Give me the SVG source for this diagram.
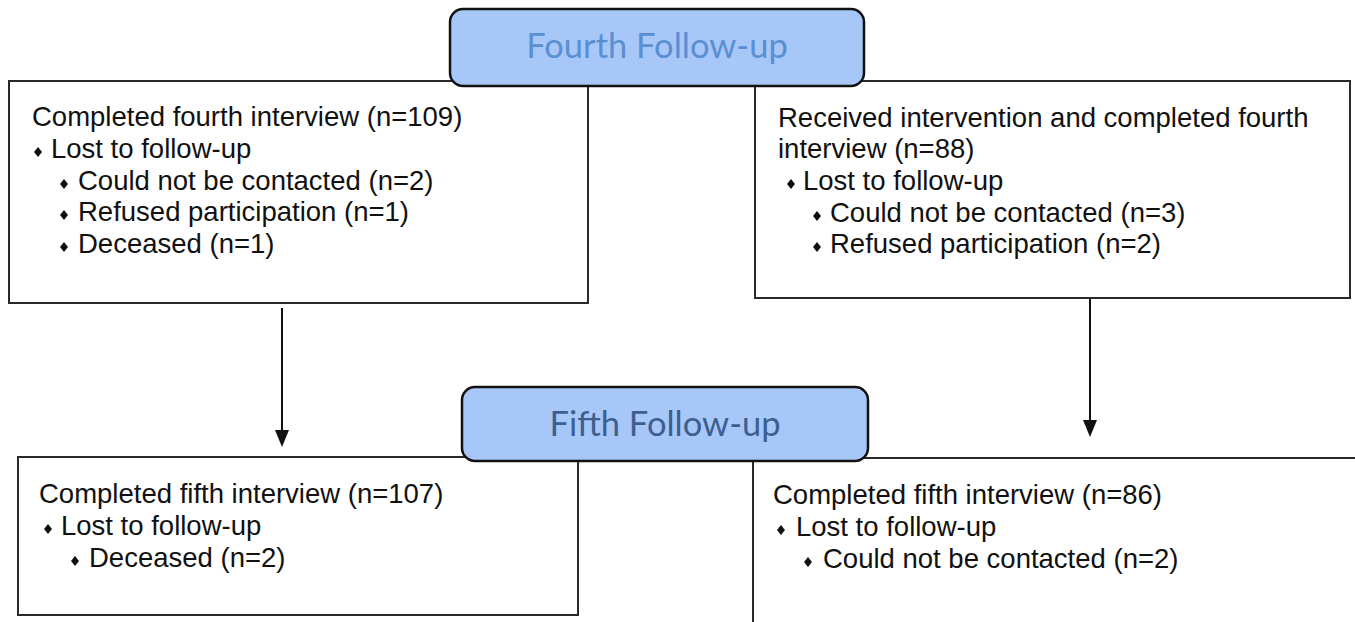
<svg xmlns="http://www.w3.org/2000/svg" width="1355" height="622" viewBox="0 0 1355 622">
<defs>
<style>
.box{fill:#fff;stroke:#2a2a2a;stroke-width:2}
.hdr{fill:#a8c7f9;stroke:#111;stroke-width:2.5}
.t{font-family:"Liberation Sans",Arial,sans-serif;font-size:27.5px;fill:#111}
.h{font-family:Lato,"Open Sans",sans-serif;font-size:34.5px;text-anchor:middle}
.conn{stroke:#111;stroke-width:2;fill:none}
</style>
<path id="dm" d="M0,-5 L4,0 L0,5 L-4,0 z" fill="#111"/>
</defs>
<g id="connectors">
<line class="conn" x1="282" y1="308" x2="282" y2="432"/>
<path d="M275,430 L289,430 L282,447 z" fill="#111"/>
<line class="conn" x1="1090" y1="298" x2="1090" y2="422"/>
<path d="M1083,420 L1097,420 L1090,437 z" fill="#111"/>
</g>
<g id="n-left4">
<rect class="box" x="9" y="81" width="579" height="222"/>
<text class="t" x="32" y="126">Completed fourth interview (n=109)</text>
<use href="#dm" x="38" y="152"/><text class="t" x="51" y="158">Lost to follow-up</text>
<use href="#dm" x="64" y="184"/><text class="t" x="78" y="190">Could not be contacted (n=2)</text>
<use href="#dm" x="64" y="215"/><text class="t" x="78" y="221">Refused participation (n=1)</text>
<use href="#dm" x="64" y="247"/><text class="t" x="78" y="253">Deceased (n=1)</text>
</g>
<g id="n-right4">
<rect class="box" x="755" y="81" width="595" height="217"/>
<text class="t" x="778" y="127">Received intervention and completed fourth</text>
<text class="t" x="778" y="158">interview (n=88)</text>
<use href="#dm" x="791" y="184"/><text class="t" x="803" y="190">Lost to follow-up</text>
<use href="#dm" x="817" y="216"/><text class="t" x="830" y="222">Could not be contacted (n=3)</text>
<use href="#dm" x="817" y="247"/><text class="t" x="830" y="253">Refused participation (n=2)</text>
</g>
<g id="n-left5">
<rect class="box" x="18" y="457" width="560" height="158"/>
<text class="t" x="39" y="503">Completed fifth interview (n=107)</text>
<use href="#dm" x="48" y="529"/><text class="t" x="61" y="535">Lost to follow-up</text>
<use href="#dm" x="75" y="561"/><text class="t" x="89" y="567">Deceased (n=2)</text>
</g>
<g id="n-right5">
<rect class="box" x="753" y="458" width="610" height="180"/>
<text class="t" x="773" y="504">Completed fifth interview (n=86)</text>
<use href="#dm" x="781" y="530"/><text class="t" x="796" y="536">Lost to follow-up</text>
<use href="#dm" x="808" y="562"/><text class="t" x="823" y="568">Could not be contacted (n=2)</text>
</g>
<g id="n-fourth">
<rect class="hdr" x="450" y="9" width="414" height="77" rx="13"/>
<text class="h" x="657" y="58" fill="#5a8fd2">Fourth Follow-up</text>
</g>
<g id="n-fifth">
<rect class="hdr" x="462" y="387" width="406" height="74" rx="13"/>
<text class="h" x="665" y="436" fill="#3d5f8d">Fifth Follow-up</text>
</g>
</svg>
